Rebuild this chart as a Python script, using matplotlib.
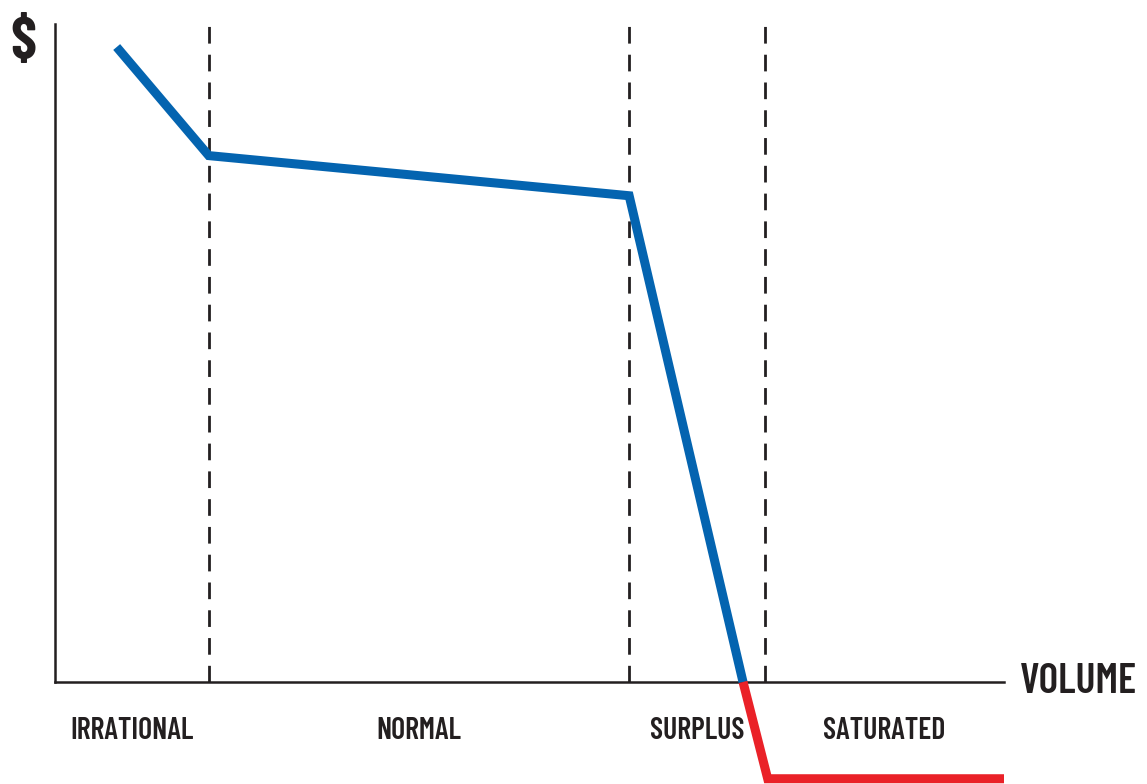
import matplotlib.pyplot as plt

# regions along the volume axis
region_names = ["IRRATIONAL", "NORMAL", "SURPLUS", "SATURATED"]
region_edges = [0.0, 1.62, 6.05, 7.48, 10.0]

# price curve (blue part above zero, red part below)
blue_x = [0.65, 1.62, 6.05, 7.25]
blue_y = [9.65, 8.0, 7.39, 0.0]
red_x = [7.25, 7.51, 10.0]
red_y = [0.0, -1.47, -1.47]

font = ['Barlow Condensed', 'DejaVu Sans']
blue = '#0464b0'
red = '#ea2128'
ink = '#231f20'

fig = plt.figure(figsize=(11.47, 7.84), dpi=100)
ax = fig.add_axes([55 / 1147, 0, 949 / 1147, 760 / 784])
ax.set_xlim(0, 10)
ax.set_ylim(-1.55, 10)

for x in region_edges[1:4]:
    ax.plot([x, x], [0, 10], color=ink, lw=2, ls=(0, (6, 4)), zorder=1)

ax.plot(blue_x, blue_y, color=blue, lw=6.5, solid_capstyle='butt',
        solid_joinstyle='miter', zorder=3)
ax.plot(red_x, red_y, color=red, lw=6.5, solid_capstyle='butt',
        solid_joinstyle='miter', zorder=3, clip_on=False)

for i, name in enumerate(region_names):
    mid = (region_edges[i] + region_edges[i + 1]) / 2
    ax.text(mid, -0.74, name, ha='center', va='center', fontsize=21.5,
            fontweight=600, family=font, color=ink)

ax.text(10.17, 0, "VOLUME", ha='left', va='center', fontsize=30,
        fontweight=600, family=font, color=ink, clip_on=False)
ax.text(-0.33, 9.72, "$", ha='center', va='center', fontsize=42,
        fontweight='bold', family=font, color=ink, clip_on=False)

for s in ['top', 'right']:
    ax.spines[s].set_visible(False)
ax.spines['bottom'].set_position(('data', 0))
ax.spines['bottom'].set_bounds(0, 10)
ax.spines['left'].set_bounds(0, 10)
for s in ['bottom', 'left']:
    ax.spines[s].set_color(ink)
    ax.spines[s].set_linewidth(1.8)
ax.set_xticks([])
ax.set_yticks([])
ax.patch.set_visible(False)

fig.savefig('out.png', dpi=100)
